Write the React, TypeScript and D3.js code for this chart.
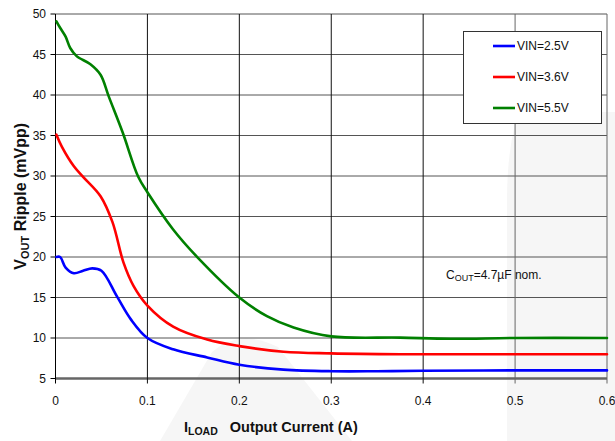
import React from "react";
import * as d3 from "d3";

const xTicks = [0, 0.1, 0.2, 0.3, 0.4, 0.5, 0.6];
const yTicks = [5, 10, 15, 20, 25, 30, 35, 40, 45, 50];

const vin25: [number, number][] = [
  [0.001, 20.0], [0.005, 20.0], [0.011, 18.7], [0.02, 18.0], [0.03, 18.3], [0.04, 18.6],
  [0.05, 18.3], [0.067, 15.1], [0.082, 12.3], [0.1, 10.0], [0.128, 8.6], [0.165, 7.6],
  [0.2, 6.7], [0.248, 6.1], [0.3, 5.9], [0.35, 5.9], [0.4, 5.95], [0.5, 6.0], [0.6, 6.0],
];
const vin36: [number, number][] = [
  [0.001, 35.1], [0.007, 33.6], [0.02, 31.2], [0.03, 29.9], [0.049, 27.5], [0.062, 24.3],
  [0.074, 19.3], [0.085, 16.4], [0.1, 14.0], [0.128, 11.4], [0.165, 9.8], [0.2, 9.0],
  [0.248, 8.3], [0.3, 8.1], [0.375, 8.0], [0.5, 8.0], [0.6, 8.0],
];
const vin55: [number, number][] = [
  [0.001, 49.1], [0.005, 48.3], [0.011, 47.2], [0.016, 45.8], [0.023, 44.8], [0.038, 43.8],
  [0.049, 42.5], [0.058, 39.8], [0.073, 35.4], [0.09, 29.9], [0.1, 28.0], [0.128, 23.4],
  [0.155, 19.9], [0.2, 15.0], [0.23, 12.7], [0.259, 11.3], [0.3, 10.2], [0.375, 10.05],
  [0.43, 9.9], [0.5, 10.0], [0.6, 10.0],
];

const seriesNames = ["VIN=2.5V", "VIN=3.6V", "VIN=5.5V"];
const seriesColors = ["#0000ff", "#ff0000", "#008000"];
const seriesData = [vin25, vin36, vin55];

const FONT = "'Liberation Sans', Arial, sans-serif";

export default function App() {
  const W = 615, H = 441;
  const x = d3.scaleLinear().domain([0, 0.6]).range([55.5, 607]);
  const y = d3.scaleLinear().domain([5, 50]).range([378.5, 14]);
  const line = d3
    .line<[number, number]>()
    .x((d) => x(d[0]))
    .y((d) => y(d[1]))
    .curve(d3.curveCatmullRom.alpha(0.5));

  return (
    <svg
      width={W}
      height={H}
      style={{ position: "absolute", left: 0, top: 0, background: "#fff" }}
      fontFamily={FONT}
    >
      {/* watermark shapes */}
      <path d="M160,441 L212,352 Q240,328 278,347 L352,441 Z" fill="#f6f6f6" />
      <path d="M518,112 Q507,150 507,200 L507,441 L615,441 L615,112 Z" fill="#f6f6f6" />

      {/* horizontal gridlines */}
      {yTicks.map((t) => (
        <line
          key={"h" + t}
          x1={x(0)}
          x2={x(0.6)}
          y1={y(t)}
          y2={y(t)}
          stroke={t === 5 ? "#666" : "#555"}
          strokeWidth={t === 5 ? 2.5 : 1}
        />
      ))}
      {/* vertical gridlines */}
      {xTicks.map((t) => (
        <line
          key={"v" + t}
          x1={x(t)}
          x2={x(t)}
          y1={y(50)}
          y2={y(5) + 5}
          stroke={t === 0 ? "#000" : t >= 0.5 ? "#666" : "#111"}
          strokeWidth={1}
        />
      ))}
      {/* y ticks */}
      {yTicks.map((t) => (
        <g key={"yt" + t}>
          <line x1={x(0) - 5} x2={x(0)} y1={y(t)} y2={y(t)} stroke="#000" />
          <text x={46} y={y(t)} dy="0.36em" textAnchor="end" fontSize={12} fill="#111">
            {t}
          </text>
        </g>
      ))}
      {/* x tick labels */}
      {xTicks.map((t) => (
        <text key={"xt" + t} x={x(t)} y={405} textAnchor="middle" fontSize={12} fill="#111">
          {t}
        </text>
      ))}

      {/* series */}
      {seriesData.map((d, i) => (
        <path
          key={seriesNames[i]}
          d={line(d) || ""}
          fill="none"
          stroke={seriesColors[i]}
          strokeWidth={2.6}
          strokeLinejoin="round"
          strokeLinecap="round"
        />
      ))}

      {/* legend */}
      <rect x={463.5} y={31.5} width={138} height={92} fill="#fff" stroke="#333" strokeWidth={1} />
      {seriesNames.map((n, i) => (
        <g key={"lg" + n}>
          <line
            x1={493}
            x2={515}
            y1={46 + i * 31}
            y2={46 + i * 31}
            stroke={seriesColors[i]}
            strokeWidth={2.6}
          />
          <text x={517} y={46 + i * 31} dy="0.36em" fontSize={12} fill="#111">
            {n}
          </text>
        </g>
      ))}

      {/* annotation */}
      <text x={446} y={279} fontSize={12} fill="#111">
        C<tspan fontSize={9} dy={2}>OUT</tspan>
        <tspan dy={-2}>=4.7µF nom.</tspan>
      </text>

      {/* x title */}
      <text x={184} y={432} fontSize={14.5} fontWeight="bold" fill="#111">
        I<tspan fontSize={10.5} dy={3}>LOAD</tspan>
        <tspan dy={-3} dx={12}>Output Current (A)</tspan>
      </text>

      {/* y title */}
      <text
        transform={`translate(26,${(y(5) + y(50)) / 2}) rotate(-90)`}
        textAnchor="middle"
        fontSize={16}
        fontWeight="bold"
        fill="#111"
      >
        V<tspan fontSize={11} dy={3}>OUT</tspan>
        <tspan dy={-3}> Ripple (mVpp)</tspan>
      </text>
    </svg>
  );
}
